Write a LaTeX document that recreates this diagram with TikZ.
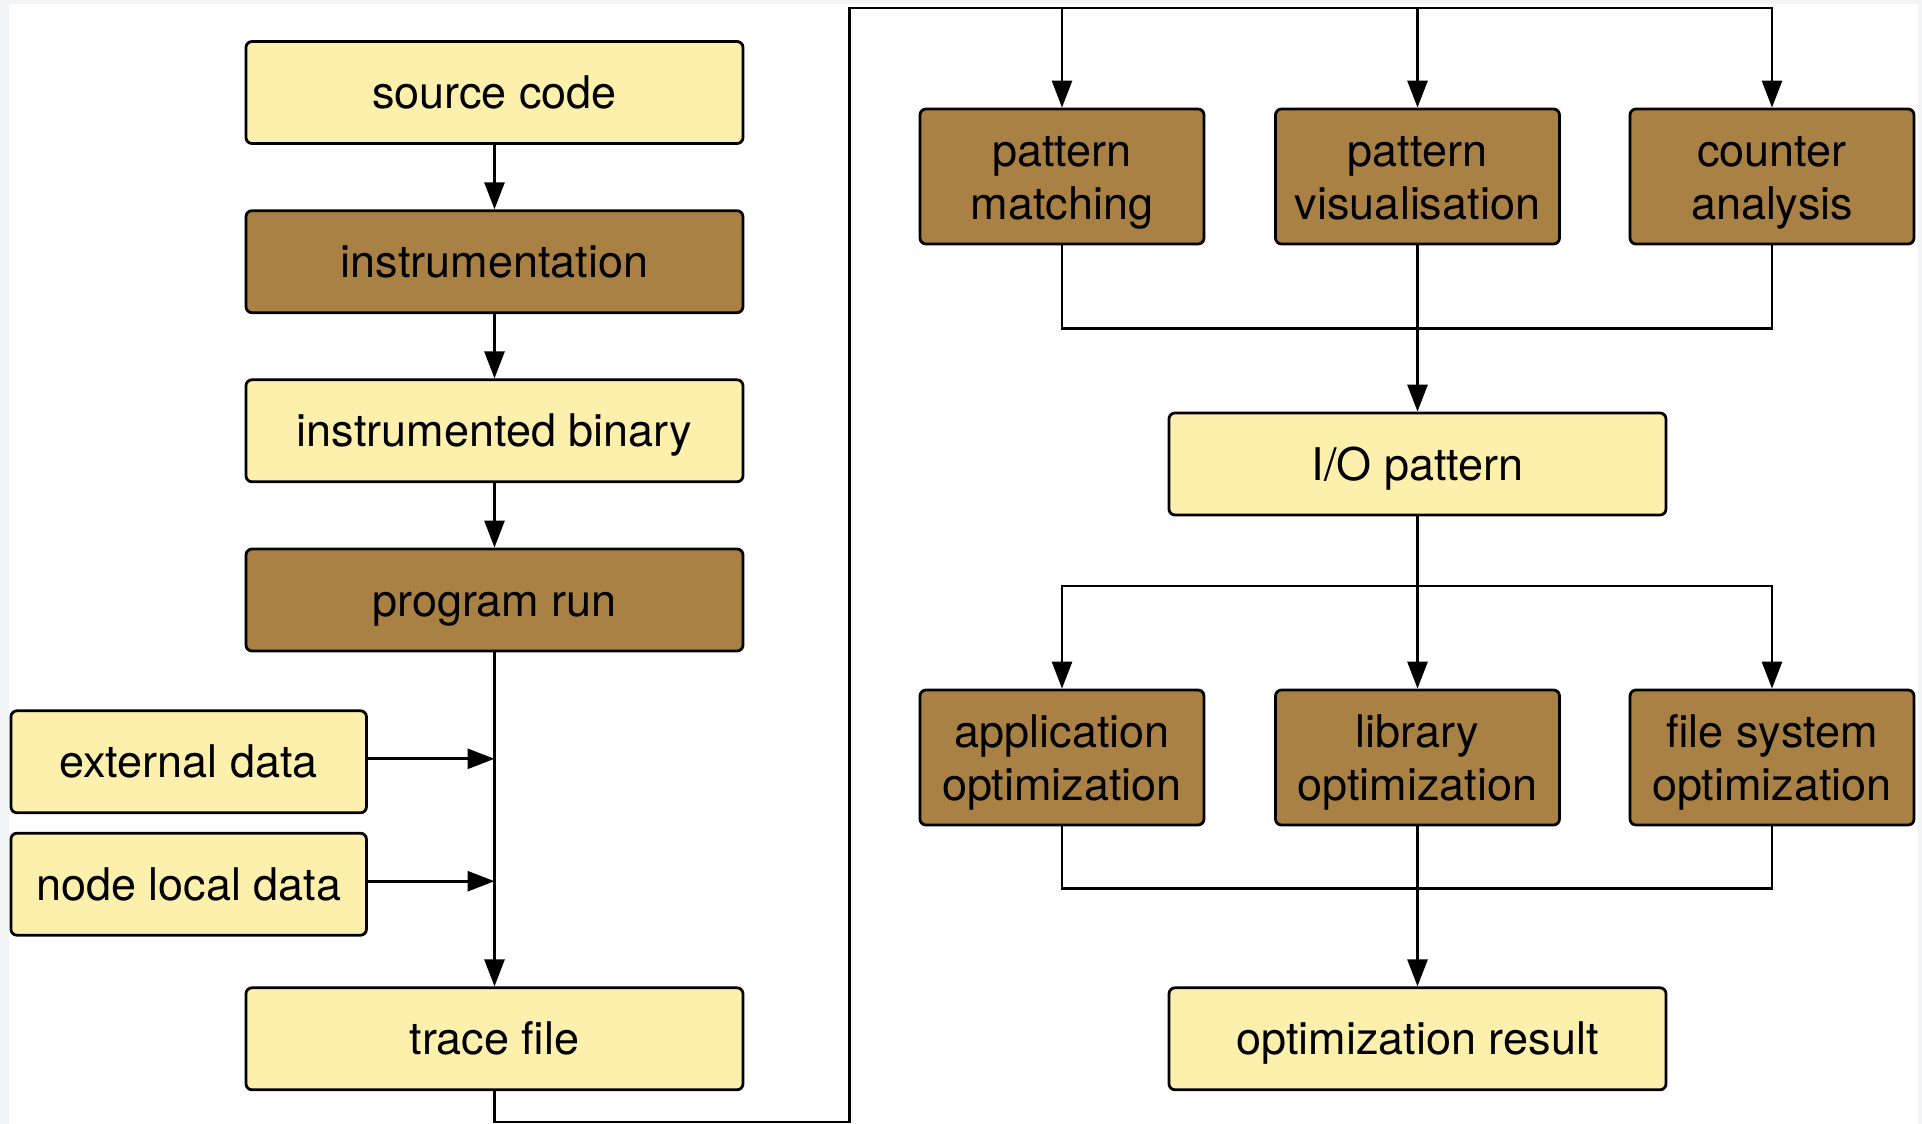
\documentclass[tikz,border=0pt]{standalone}
\usepackage{fontspec}
\setmainfont{TeX Gyre Heros}
\usetikzlibrary{calc,arrows.meta}

\definecolor{boxlight}{HTML}{FDF0AC}
\definecolor{boxdark}{HTML}{A98144}
\definecolor{pagegrey}{HTML}{F3F4F6}

\tikzset{
	box/.style={draw, line width=1.4pt, rounded corners=3pt, inner sep=0pt,
		minimum width=248.5pt, minimum height=51pt, align=center,
		font=\fontsize{22.5}{26.5}\selectfont},
	light/.style={box, fill=boxlight, text height=16pt, text depth=0pt},
	dark/.style={light, fill=boxdark},
	tool/.style={box, fill=boxdark, minimum width=142pt, minimum height=67.5pt,
		text height=47.5pt, text depth=4.7pt},
	wire/.style={line width=1.4pt},
	link/.style={wire, -{Triangle[length=13.5pt,width=10pt]}}
}

\begin{document}
\begin{tikzpicture}[x=0.5pt,y=-0.5pt]
\fill[pagegrey] (0,0) rectangle (1922,1124);
\fill[white] (9,4) rectangle (1918,1124);
\useasboundingbox (0,0) rectangle (1922,1124);

% left column
\node[light] (src) at (494.5,92.5) {source code};
\node[dark] (instr) at (494.5,261.7) {instrumentation};
\node[light] (bin) at (494.5,430.8) {instrumented binary};
\node[dark] (run) at (494.5,600) {program run};
\node[light, minimum width=177.75pt] (ext) at (188.7,761.8) {external data};
\node[light, minimum width=177.75pt] (nld) at (188.7,884.2) {node local data};
\node[light] (trace) at (494.5,1038.8) {trace file};

\draw[link] (src) -- (instr);
\draw[link] (instr) -- (bin);
\draw[link] (bin) -- (run);
\draw[link] (run) -- (trace);
\draw[link] ($(ext.east)+(0,-3)$) -- ($(ext.east -| run)+(0,-3)$);
\draw[link] ($(nld.east)+(0,-3)$) -- ($(nld.east -| run)+(0,-3)$);

% right column
\foreach \n/\x/\t in {pm/1062/{pattern\\matching}, pv/1417.5/{pattern\\visualisation}, cnt/1772/{counter\\analysis}} {
	\node[tool] (\n) at (\x,176.5) {\t};
}
\node[light] (io) at (1417.5,464) {I/O pattern};
\foreach \n/\x/\t in {app/1062/{application\\optimization}, lib/1417.5/{library\\optimization}, fs/1772/{file system\\optimization}} {
	\node[tool] (\n) at (\x,757.5) {\t};
}
\node[light] (res) at (1417.5,1038.8) {optimization result};

% trace file back to the analysis tools
\coordinate (bot) at (849.5,1122);
\coordinate (top) at (849.5,8);
\draw[link] (trace.south) |- (bot) -- (top) -| (cnt);
\draw[link] (top -| pm) -- (pm);
\draw[link] (top -| pv) -- (pv);

\coordinate (m1) at (1417.5,328.5);
\draw[wire] (pm) |- (m1) -| (cnt);
\draw[link] (pv) -- (io);

\coordinate (b1) at (1417.5,586);
\draw[link] (io) -- (lib);
\draw[link] (b1) -| (app);
\draw[link] (b1) -| (fs);

\coordinate (m2) at (1417.5,888.7);
\draw[wire] (app) |- (m2) -| (fs);
\draw[link] (lib) -- (res);
\end{tikzpicture}
\end{document}
